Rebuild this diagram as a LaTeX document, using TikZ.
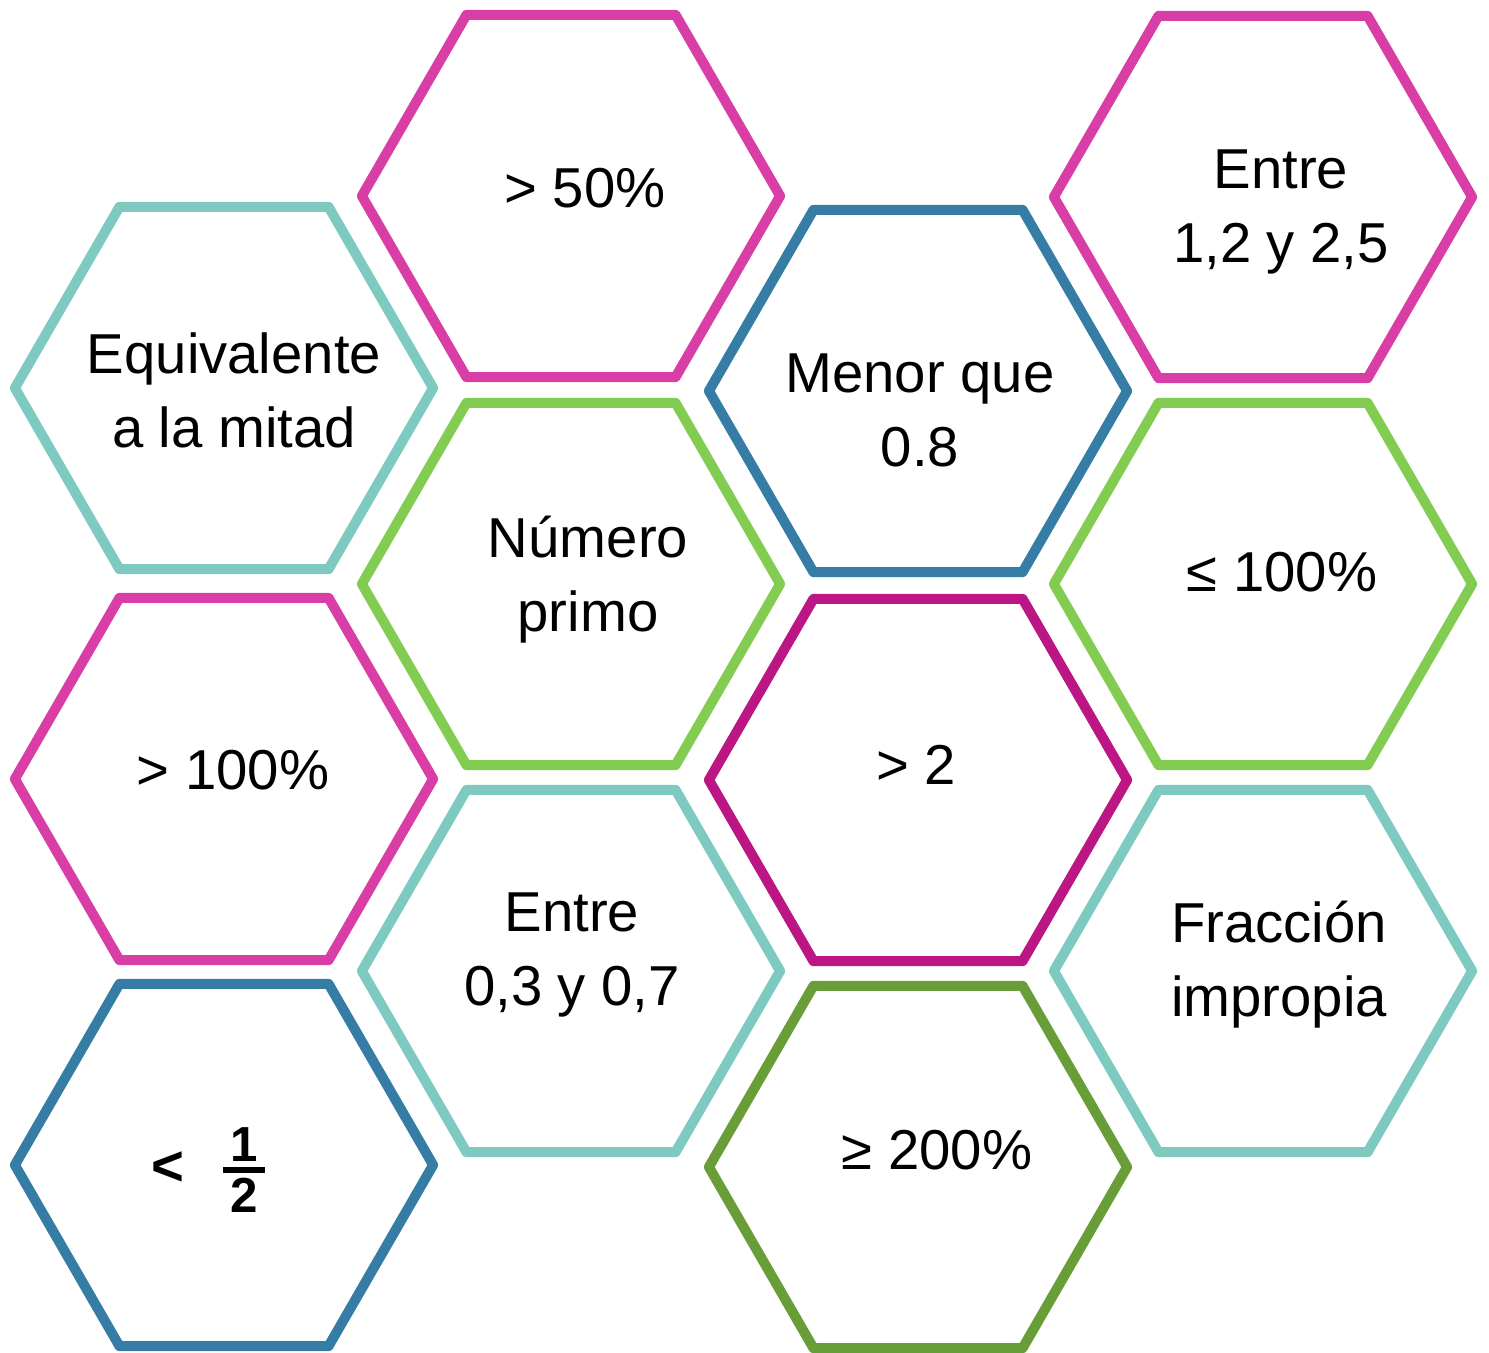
\documentclass[tikz,border=0pt]{standalone}
\usepackage{fontspec}
\setmainfont{Liberation Sans}
\usetikzlibrary{shapes.geometric}
\definecolor{hexPink}{RGB}{217,61,166}
\definecolor{hexMagenta}{RGB}{187,22,131}
\definecolor{hexBlue}{RGB}{54,125,166}
\definecolor{hexTeal}{RGB}{127,202,192}
\definecolor{hexGreen}{RGB}{131,204,82}
\definecolor{hexOlive}{RGB}{104,157,56}
\tikzset{
  hexa/.style={regular polygon, regular polygon sides=6, minimum size=4.18cm,
    inner sep=0pt, line width=1mm, line join=round, draw=#1},
  hexText/.style={align=center, inner sep=0pt, font=\fontsize{16}{21}\selectfont}
}

\begin{document}
\begin{tikzpicture}[x=0.01cm, y=-0.01cm]
      \useasboundingbox (0,0) rectangle (1489,1352);
      % first column
      \node [hexa=hexTeal] (mitad) at (224,388) {};
      \node [hexa=hexPink] (cien) at (224,779) {};
      \node [hexa=hexBlue] (medio) at (224,1165) {};
      % second column
      \node [hexa=hexPink] (cincuenta) at (571,196) {};
      \node [hexa=hexGreen] (primo) at (571,584) {};
      \node [hexa=hexTeal] (entreA) at (571,971) {};
      % third column
      \node [hexa=hexBlue] (menor) at (918,391) {};
      \node [hexa=hexMagenta] (dos) at (918,780) {};
      \node [hexa=hexOlive] (doscientos) at (918,1167) {};
      % fourth column
      \node [hexa=hexPink] (entreB) at (1263,197) {};
      \node [hexa=hexGreen] (menorCien) at (1263,584) {};
      \node [hexa=hexTeal] (impropia) at (1263,971) {};
      % texts
      \node [hexText] (mitadT) at (234,390) {Equivalente\\a la mitad};
      \node [hexText] (cienT) at (233,770) {> 100\%};
      \node [hexText] (medioT) at (210,1170) {\textbf{<}\hspace{10pt}%
        ${\hbox{\fontsize{14}{14}\selectfont\bfseries\kern2pt 1\kern2pt}\above 1.6pt
          \hbox{\fontsize{14}{14}\selectfont\bfseries\kern2pt 2\kern2pt}}$};
      \node [hexText] (cincuentaT) at (585,188) {> 50\%};
      \node [hexText] (primoT) at (588,580) {Número\\primo};
      \node [hexText] (entreAT) at (572,955) {Entre\\0,3 y 0,7};
      \node [hexText] (menorT) at (920,410) {Menor que\\0.8};
      \node [hexText] (dosT) at (916,765) {> 2};
      \node [hexText] (doscientosT) at (937,1150) {≥ 200\%};
      \node [hexText] (entreBT) at (1281,212) {Entre\\1,2 y 2,5};
      \node [hexText] (menorCienT) at (1282,572) {≤ 100\%};
      \node [hexText] (impropiaT) at (1279,965) {Fracción\\impropia};
\end{tikzpicture}
\end{document}
